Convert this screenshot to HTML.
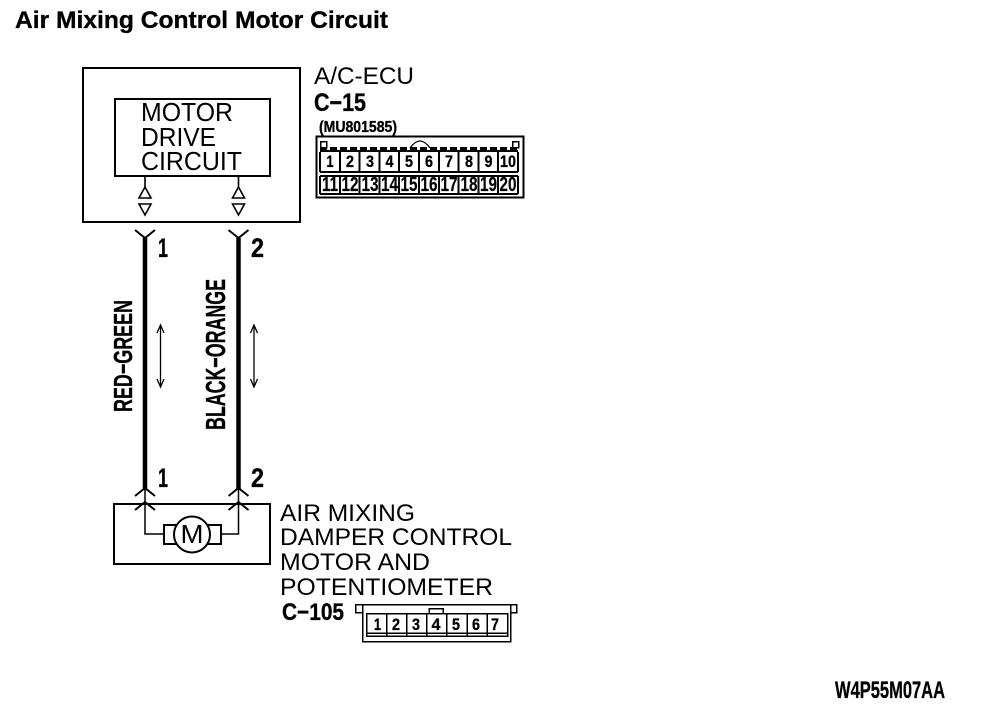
<!DOCTYPE html>
<html><head><meta charset="utf-8"><style>
html,body{margin:0;padding:0;background:#fff}
svg{display:block}
text{font-family:"Liberation Sans",sans-serif;fill:#000}
.n{font-size:24px}
.m{font-size:26px}
.b{font-weight:bold;stroke:#000;stroke-width:.35px}
.c{font-weight:bold;font-size:17px;text-anchor:middle;stroke:#000;stroke-width:.3px}
.d{font-weight:bold;font-size:20px;text-anchor:middle;stroke:#000;stroke-width:.2px}
</style></head><body>
<svg width="992" height="710" viewBox="0 0 992 710" xmlns="http://www.w3.org/2000/svg">
<rect width="992" height="710" fill="#fff"/>
<text x="15" y="28" class="b" font-size="24" textLength="373" lengthAdjust="spacingAndGlyphs">Air Mixing Control Motor Circuit</text>

<g fill="none" stroke="#000" stroke-width="2" shape-rendering="crispEdges">
<rect x="83" y="68" width="217" height="154"/>
<rect x="115" y="99" width="155" height="77"/>
<rect x="114" y="504" width="156" height="60"/>
</g>
<text x="141" y="121" class="m" textLength="92" lengthAdjust="spacingAndGlyphs">MOTOR</text>
<text x="141" y="146" class="m" textLength="75" lengthAdjust="spacingAndGlyphs">DRIVE</text>
<text x="141" y="170" class="m" textLength="101" lengthAdjust="spacingAndGlyphs">CIRCUIT</text>
<text x="314" y="84" class="n" textLength="100" lengthAdjust="spacingAndGlyphs">A/C-ECU</text>
<text x="314" y="111" class="b" font-size="25" textLength="52" lengthAdjust="spacingAndGlyphs">C−15</text>
<text x="319" y="132" class="b" font-size="16" textLength="78" lengthAdjust="spacingAndGlyphs">(MU801585)</text>

<!-- ECU link symbols -->
<g fill="none" stroke="#000" stroke-width="1.6">
<path d="M145 176V187M238.500 176V187"/>
<path d="M145 187L139 198H151ZM238.500 187L232.500 198H244.500Z"/>
<path d="M139 204H151L145 215ZM232.500 204H244.500L238.500 215Z"/>
</g>

<!-- wires -->
<g stroke="#000" fill="none">
<path d="M145 238V490M238.500 238V490" stroke-width="4.500"/>
<path d="M135 230L145 238L155 230M228.500 230L238.500 238L248.500 230" stroke-width="2"/>
<path d="M135 496L145 488L155 496M228.500 496L238.500 488L248.500 496" stroke-width="2"/>
<path d="M135 510L145 502L155 510M228.500 510L238.500 502L248.500 510" stroke-width="2"/>
<path d="M145 488V534H163M238.500 488V534H221" stroke-width="1.500"/>
</g>
<g fill="none" stroke="#000" stroke-width="2">
<rect x="164" y="525" width="14" height="19"/>
<rect x="206" y="525" width="15" height="19"/>
<circle cx="192" cy="534.500" r="18" fill="#fff"/>
</g>
<text x="180.500" y="543" font-size="26" textLength="23" lengthAdjust="spacingAndGlyphs">M</text>

<text x="158" y="257" class="b" font-size="27" textLength="10" lengthAdjust="spacingAndGlyphs">1</text>
<text x="251" y="257" class="b" font-size="27" textLength="13" lengthAdjust="spacingAndGlyphs">2</text>
<text x="158" y="487" class="b" font-size="27" textLength="10" lengthAdjust="spacingAndGlyphs">1</text>
<text x="251" y="487" class="b" font-size="27" textLength="13" lengthAdjust="spacingAndGlyphs">2</text>

<text transform="translate(132,412) rotate(-90)" class="b" font-size="26" textLength="112" lengthAdjust="spacingAndGlyphs">RED−GREEN</text>
<text transform="translate(225,430) rotate(-90)" class="b" font-size="28" textLength="151" lengthAdjust="spacingAndGlyphs">BLACK−ORANGE</text>

<!-- current arrows -->
<g fill="none" stroke="#000" stroke-width="1.300">
<path d="M160.500 325V387M157 333L160.500 325L164 333M157 379L160.500 387L164 379"/>
<path d="M254 325V387M250.500 333L254 325L257.500 333M250.500 379L254 387L257.500 379"/>
</g>

<text x="280" y="521" class="n" textLength="135" lengthAdjust="spacingAndGlyphs">AIR MIXING</text>
<text x="280" y="545" class="n" textLength="232" lengthAdjust="spacingAndGlyphs">DAMPER CONTROL</text>
<text x="280" y="570" class="n" textLength="150" lengthAdjust="spacingAndGlyphs">MOTOR AND</text>
<text x="280" y="595" class="n" textLength="213" lengthAdjust="spacingAndGlyphs">POTENTIOMETER</text>
<text x="282" y="620" class="b" font-size="24" textLength="62" lengthAdjust="spacingAndGlyphs">C−105</text>
<text x="835" y="698" class="b" font-size="24" textLength="110" lengthAdjust="spacingAndGlyphs">W4P55M07AA</text>

<!-- C-15 connector -->
<g fill="none" stroke="#000" shape-rendering="crispEdges">
<rect x="316.500" y="136.500" width="207" height="61" stroke-width="2"/>
<rect x="320.500" y="141.500" width="6" height="6" stroke-width="1.500"/>
<rect x="512.500" y="141.500" width="6" height="6" stroke-width="1.500"/>
<path d="M320 148.500H518" stroke-width="3" stroke-dasharray="7 3"/>
<path d="M320 151H518" stroke-width="2"/>
<path d="M320 172H518M320 176H518M320 194H518" stroke-width="2"/>
<path d="M320 152V172M339.800 152V172M359.600 152V172M379.400 152V172M399.200 152V172M419 152V172M438.800 152V172M458.600 152V172M478.400 152V172M498.200 152V172M518 152V172" stroke-width="2"/>
<path d="M320 176V194M339.800 176V194M359.600 176V194M379.400 176V194M399.200 176V194M419 176V194M438.800 176V194M458.600 176V194M478.400 176V194M498.200 176V194M518 176V194" stroke-width="2"/>
</g>
<path d="M410 148Q420 134 430 148" fill="none" stroke="#000" stroke-width="1.300"/>
<g>
<text class="c" x="330" y="167" textLength="7" lengthAdjust="spacingAndGlyphs">1</text><text class="c" x="350" y="167" textLength="8" lengthAdjust="spacingAndGlyphs">2</text><text class="c" x="370" y="167" textLength="8" lengthAdjust="spacingAndGlyphs">3</text><text class="c" x="389.500" y="167" textLength="8" lengthAdjust="spacingAndGlyphs">4</text><text class="c" x="409" y="167" textLength="8" lengthAdjust="spacingAndGlyphs">5</text><text class="c" x="429" y="167" textLength="8" lengthAdjust="spacingAndGlyphs">6</text><text class="c" x="449" y="167" textLength="8" lengthAdjust="spacingAndGlyphs">7</text><text class="c" x="469" y="167" textLength="8" lengthAdjust="spacingAndGlyphs">8</text><text class="c" x="488.500" y="167" textLength="8" lengthAdjust="spacingAndGlyphs">9</text><text class="c" x="508" y="167" textLength="16" lengthAdjust="spacingAndGlyphs">10</text>
<text class="d" x="330" y="191" textLength="16" lengthAdjust="spacingAndGlyphs">11</text><text class="d" x="350" y="191" textLength="17" lengthAdjust="spacingAndGlyphs">12</text><text class="d" x="370" y="191" textLength="17" lengthAdjust="spacingAndGlyphs">13</text><text class="d" x="389.500" y="191" textLength="17" lengthAdjust="spacingAndGlyphs">14</text><text class="d" x="409" y="191" textLength="17" lengthAdjust="spacingAndGlyphs">15</text><text class="d" x="429" y="191" textLength="17" lengthAdjust="spacingAndGlyphs">16</text><text class="d" x="449" y="191" textLength="17" lengthAdjust="spacingAndGlyphs">17</text><text class="d" x="469" y="191" textLength="17" lengthAdjust="spacingAndGlyphs">18</text><text class="d" x="488.500" y="191" textLength="17" lengthAdjust="spacingAndGlyphs">19</text><text class="d" x="508" y="191" textLength="17" lengthAdjust="spacingAndGlyphs">20</text>
</g>

<!-- C-105 connector -->
<g fill="none" stroke="#000" shape-rendering="crispEdges">
<path d="M362.500 612.500H355.500V604.500H516.500V612.500H510.500M362.500 604.500V641.500H510.500V604.500" stroke-width="1.500"/>
<rect x="366.500" y="613.500" width="141" height="22.500" stroke-width="1.500"/>
<path d="M366 633H507" stroke-width="1.500"/>
<path d="M386.500 614V636M406.500 614V636M426.500 614V636M446.500 614V636M467 614V636M487 614V636" stroke-width="1.500"/>
<path d="M429 613V608.500H443V613" stroke-width="1.500"/>
</g>
<g>
<text class="c" x="377.500" y="630" textLength="7" lengthAdjust="spacingAndGlyphs">1</text><text class="c" x="396" y="630" textLength="8" lengthAdjust="spacingAndGlyphs">2</text><text class="c" x="416" y="630" textLength="8" lengthAdjust="spacingAndGlyphs">3</text><text class="c" x="436" y="630" textLength="9" lengthAdjust="spacingAndGlyphs">4</text><text class="c" x="456" y="630" textLength="8" lengthAdjust="spacingAndGlyphs">5</text><text class="c" x="476" y="630" textLength="8" lengthAdjust="spacingAndGlyphs">6</text><text class="c" x="495" y="630" textLength="8" lengthAdjust="spacingAndGlyphs">7</text>
</g>
</svg>
</body></html>
